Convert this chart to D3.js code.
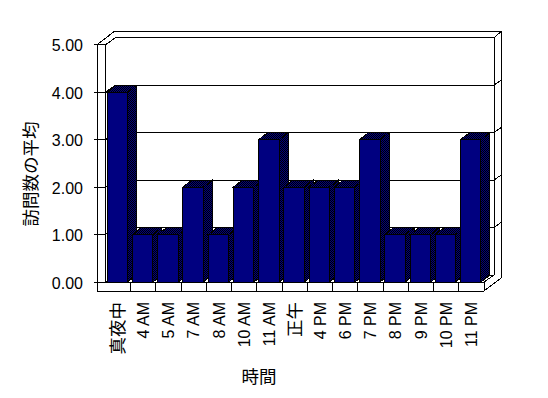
<!DOCTYPE html>
<head>
  <meta charset="utf-8">
  <title>訪問数の平均</title>
  <script src="https://cdn.jsdelivr.net/npm/d3@7"></script>
  <style>
    body { margin: 0; background: #fff; }
    svg { display: block; }
    .num { font-family: "Liberation Sans", Arial, sans-serif; font-size: 16px; }
    .jp { font-family: "Noto Sans CJK JP", sans-serif; font-size: 17.5px; }
  </style>
</head>
<body>
<svg width="548" height="398"></svg>
<script>
var categories = ["真夜中", "4 AM", "5 AM", "7 AM", "8 AM", "10 AM", "11 AM", "正午",
                  "4 PM", "6 PM", "7 PM", "8 PM", "9 PM", "10 PM", "11 PM"]
var values = [4, 1, 1, 2, 1, 2, 3, 2, 2, 2, 3, 1, 1, 1, 3]
var yTicks = [0, 1, 2, 3, 4, 5]
var yTitle = "訪問数の平均"
var xTitle = "時間"

var svg = d3.select("svg")
var navy = "#000080"

// front plane of the plot, depth offset to back wall, and to wall's outer side
var left = 105.5, outerLeft = 97, right = 484
var floorBottom = 291
var D = { x: 10, y: -7 }     // to inner face of back wall
var O = { x: 17, y: -13 }    // to outer face of back wall
var B = { x: 9, y: -7 }      // depth of a bar

var x = d3.scaleBand().domain(categories).range([left, right])
var y = d3.scaleLinear().domain([0, 5]).range([282, 44.7])

var defs = svg.append("defs")
var pat = defs.append("pattern").attr("id", "dith")
  .attr("width", 2).attr("height", 2).attr("patternUnits", "userSpaceOnUse")
pat.append("rect").attr("width", 2).attr("height", 2).attr("fill", navy)
pat.append("rect").attr("width", 1).attr("height", 1).attr("fill", "#000")
pat.append("rect").attr("x", 1).attr("y", 1).attr("width", 1).attr("height", 1).attr("fill", "#000")

var g = svg.append("g").attr("stroke", "#000").attr("stroke-width", 1)
  .attr("fill", "none").attr("shape-rendering", "crispEdges")

function line(pts) {
  g.append("path").attr("d", d3.line()(pts))
}
function poly(pts, fill) {
  g.append("path").attr("d", d3.line()(pts) + "Z").attr("fill", fill)
}

var y0 = y(0), y5 = y(5)

// walls: left wall slab, back wall slab
line([[outerLeft, floorBottom], [outerLeft, y5], [left, y5], [left, y0]])
line([[outerLeft, y5], [outerLeft + O.x, y5 + O.y], [right + O.x, y5 + O.y],
      [right + O.x, floorBottom + O.y]])
line([[left, y5], [left + D.x, y5 + D.y], [right + D.x, y5 + D.y],
      [right + O.x, y5 + O.y]])
line([[right + D.x, y5 + D.y], [right + D.x, y0 + D.y]])

// gridlines wrapping round the walls
yTicks.forEach(function (v) {
  var yy = y(v)
  line([[outerLeft - 3, yy], [left, yy]])
  if (v > 0 && v < 5) {
    line([[left, yy], [left + D.x, yy + D.y], [right + D.x, yy + D.y],
          [right + O.x, yy + O.y + 1]])
  }
})

// floor slab
line([[left, y0], [left + D.x, y0 + D.y], [right + D.x, y0 + D.y]])
line([[outerLeft, y0], [right, y0], [right + D.x, y0 + D.y]])
line([[outerLeft, floorBottom], [right, floorBottom], [right + O.x, floorBottom + O.y]])
line([[right, y0], [right, floorBottom]])
categories.slice(1).forEach(function (c) {
  line([[x(c), y0], [x(c), floorBottom]])
})

// bars, left to right so each one covers its neighbour's side
var bw = x.bandwidth()
categories.forEach(function (c, i) {
  var xl = x(c) + bw * 0.07, xr = xl + bw * 0.81
  var yt = y(values[i])
  poly([[xr, yt], [xr + B.x, yt + B.y], [xr + B.x, y0 + B.y], [xr, y0]], "url(#dith)")
  poly([[xl, yt], [xl + B.x, yt + B.y], [xr + B.x, yt + B.y], [xr, yt]], "url(#dith)")
  poly([[xl, yt], [xr, yt], [xr, y0], [xl, y0]], navy)
})

// y tick labels
svg.selectAll(".ytick").data(yTicks).enter().append("text")
  .attr("class", "num")
  .attr("x", 83).attr("y", function (d) { return y(d) + 1 })
  .attr("dy", "0.35em").attr("text-anchor", "end")
  .text(function (d) { return d.toFixed(2) })

// x tick labels, rotated
svg.selectAll(".xtick").data(categories).enter().append("text")
  .attr("class", function (d) { return /[A-Z0-9]/.test(d) ? "num" : "jp" })
  .attr("transform", function (d) {
    return "translate(" + (x(d) + bw / 2) + ",302) rotate(-90)"
  })
  .attr("dy", "0.35em").attr("text-anchor", "end")
  .text(function (d) { return d })

// axis titles
svg.append("text").attr("class", "jp")
  .attr("transform", "translate(31,174) rotate(-90)")
  .attr("dy", "0.35em").attr("text-anchor", "middle")
  .text(yTitle)

svg.append("text").attr("class", "jp")
  .attr("x", 259).attr("y", 377).attr("dy", "0.35em").attr("text-anchor", "middle")
  .text(xTitle)
</script>
</body>
